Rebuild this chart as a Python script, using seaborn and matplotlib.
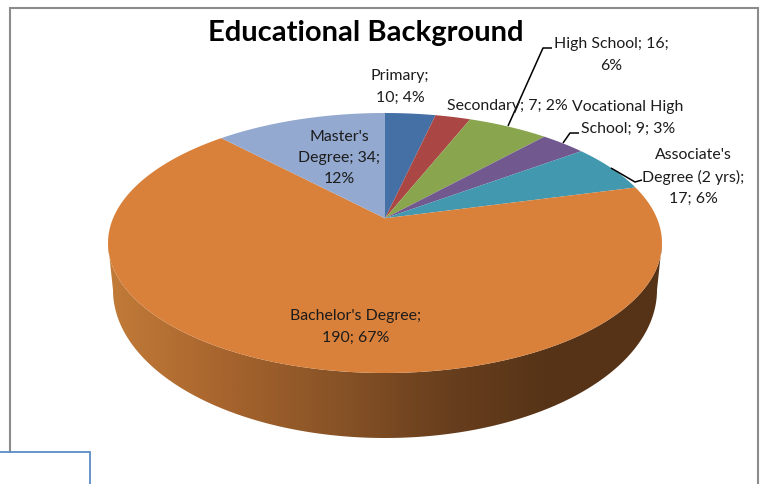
import numpy as np
import matplotlib
matplotlib.use("Agg")
import matplotlib.pyplot as plt
from matplotlib.colors import LinearSegmentedColormap
from matplotlib.patches import Polygon
from matplotlib.transforms import Affine2D
import seaborn as sns

# Survey counts by highest completed education
categories = ["Primary", "Secondary", "High School", "Vocational High School",
              "Associate's Degree (2 yrs)", "Bachelor's Degree", "Master's Degree"]
counts = [10, 7, 16, 9, 17, 190, 34]
slice_colors = ["#4570a5", "#aa4643", "#89a54e", "#71588f", "#4198af", "#d9803a", "#93a9cf"]
wall_stops = ["#c27b38", "#a8652e", "#8a5427", "#6a401e", "#563317", "#563317"]
label_templates = ["Primary;\n{v}; {p}%", "Secondary; {v}; {p}%", "High School; {v};\n{p}%",
                   "Vocational High\nSchool; {v}; {p}%", "Associate's\nDegree (2 yrs);\n{v}; {p}%",
                   "Bachelor's Degree;\n{v}; {p}%", "Master's\nDegree; {v};\n{p}%"]
label_centers = [(400, 87), (507, 106), (611, 55), (628, 118), (693, 177), (356, 327), (339, 158)]
leaders = [[(508, 126), (543, 48), (552, 48)],
           [(563, 143), (570, 133), (579, 133)],
           [(611, 168), (635, 182), (642, 180)]]

W, H = 764, 484
TILT = 0.19    # shift of the apex on the tilted disc


def tilt(x, y):
    """Projective map of the unit disc onto itself that moves its centre upward."""
    d = 1 + TILT * y
    return x * np.sqrt(1 - TILT ** 2) / d, (y + TILT) / d


sns.set_theme(style="white")
plt.rcParams["font.family"] = ["Lato", "DejaVu Sans"]
palette = sns.color_palette(slice_colors)

fig = plt.figure(figsize=(W / 100, H / 100), dpi=100, facecolor="white")
ax = fig.add_axes([0, 0, 1, 1])
wedges, _ = ax.pie(counts, startangle=90, counterclock=False, colors=palette)

# Disc radius and centre on the canvas
rx, ry, cx, cy = 277.0, 130.0, 385.0, 243.0
# Lower rim of the side wall, seen in perspective
rx_low, ry_low, cy_low = 272.0, 148.0, 290.0

# Side wall with its left-to-right shading, clipped between the two rims
t = np.linspace(np.pi, 2 * np.pi, 200)
low_x = rx_low / rx * np.cos(t)
low_y = (cy - cy_low + ry_low * np.sin(t)) / ry
top_x = np.cos(t[::-1])
top_y = np.sin(t[::-1])
wall = Polygon(np.vstack([np.column_stack([low_x, low_y]),
                          np.column_stack([top_x, top_y])]),
               closed=True, transform=ax.transData, facecolor="none", edgecolor="none")
ax.add_patch(wall)
shade = LinearSegmentedColormap.from_list("wall", wall_stops)
img = ax.imshow(np.linspace(0, 1, 400)[None, :], cmap=shade, aspect="auto",
                extent=(-1, 1, -1.6, 0), zorder=1)
img.set_clip_path(wall)
ax.set_aspect("auto")
ax.set_xlim(-cx / rx, (W - cx) / rx)
ax.set_ylim((cy - H) / ry, cy / ry)
ax.axis("off")

# Top face: each pie wedge redrawn through the tilt map
for w in wedges:
    a = np.radians(np.linspace(w.theta1, w.theta2, 160))
    x, y = tilt(np.cos(a), np.sin(a))
    ax0, ay0 = tilt(0.0, 0.0)
    ax.fill(np.r_[ax0, x], np.r_[ay0, y], color=w.get_facecolor(), lw=0, zorder=2)
    w.remove()

# Everything below is placed in canvas pixels, y down
px = Affine2D().scale(1, -1).translate(0, H)

total = sum(counts)
for tmpl, v, (lx, ly) in zip(label_templates, counts, label_centers):
    text = tmpl.format(v=v, p=round(100 * v / total))
    ax.text(lx, ly, text, transform=px, ha="center", va="center", fontsize=11.4,
            color="#1c1c1c", linespacing=1.65, zorder=4)

for pts in leaders:
    xs, ys = zip(*pts)
    ax.plot(xs, ys, transform=px, color="black", lw=1.1, zorder=3, solid_capstyle="butt")

ax.text(366, 33, "Educational Background", transform=px, ha="center", va="center",
        fontsize=21, fontweight="bold", color="black", zorder=4)

# Chart frame and the box cut off at the lower left
frame = [(10, 452), (10, 8), (758, 8), (758, 484)]
xs, ys = zip(*frame)
ax.plot(xs, ys, transform=px, color="#8c8c8c", lw=1.5, zorder=3, solid_joinstyle="miter")
ax.plot([0, 90, 90], [452, 452, 484], transform=px, color="#5b8bc5", lw=1.3, zorder=3,
        solid_joinstyle="miter")

fig.savefig("out.png", dpi=100, facecolor="white")
